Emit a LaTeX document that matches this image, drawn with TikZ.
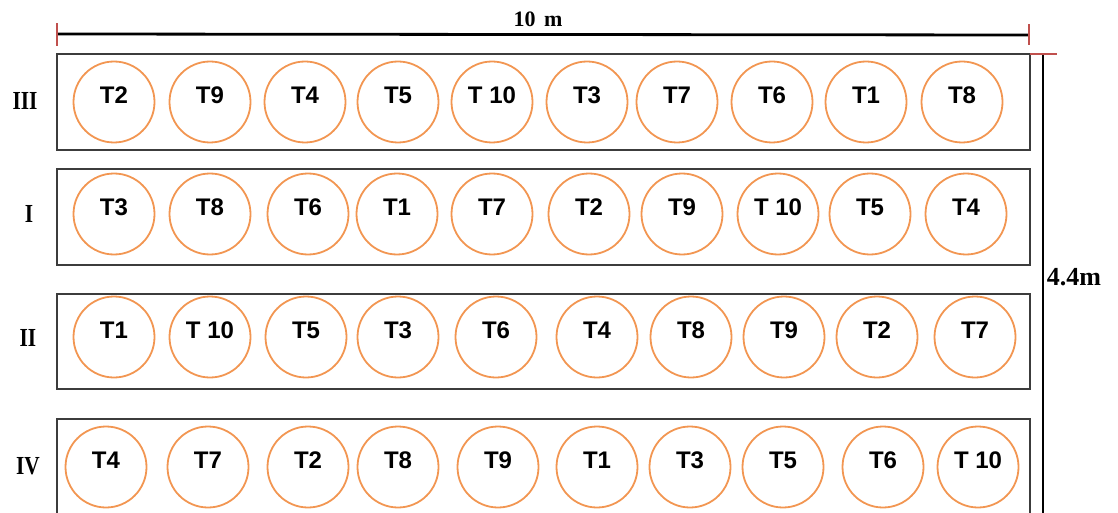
\documentclass[tikz,border=0pt]{standalone}
\usepackage{fontspec}
\setmainfont{Liberation Serif}
\newfontfamily\plotfont{Liberation Sans}
\definecolor{plotorange}{RGB}{242,150,82}
\definecolor{tickred}{RGB}{192,80,77}
\definecolor{boxgray}{RGB}{60,60,60}
\begin{document}
\begin{tikzpicture}[x=1pt,y=-1pt,
  rowbox/.style={draw=boxgray,line width=1.3pt},
  plotc/.style={circle,draw=plotorange,line width=1.8pt,minimum size=81pt,inner sep=0pt},
  tlab/.style={font=\plotfont\bfseries\fontsize{24}{24}\selectfont,inner sep=0pt},
  rlab/.style={font=\bfseries\fontsize{26}{26}\selectfont,inner sep=0pt},
  dimlab/.style={font=\bfseries\fontsize{22}{22}\selectfont,inner sep=0pt},
  dimlabb/.style={font=\bfseries\fontsize{26}{26}\selectfont,inner sep=0pt},
  dimline/.style={line width=2.8pt,black},
  redtick/.style={line width=2pt,tickred}]
\useasboundingbox (0,0) rectangle (1118,513);
% row boxes
\draw[rowbox] (57,54) rectangle (1030,150);
\draw[rowbox] (57,169) rectangle (1030,265);
\draw[rowbox] (57,294) rectangle (1030,389);
\draw[rowbox] (57,419) rectangle (1030,520);
% row labels
\node[rlab] (rIII) at (25,101) {\scalebox{0.82}[1]{III}};
\node[rlab] (rI) at (29,214) {\scalebox{0.82}[1]{I}};
\node[rlab] (rII) at (28,338) {\scalebox{0.82}[1]{II}};
\node[rlab] (rIV) at (28,466) {\scalebox{0.82}[1]{IV}};
% plots
\foreach \x/\t [count=\i] in {114/T2,210/T9,305/T4,398/T5,492/T 10,587/T3,677/T7,772/T6,866/T1,962/T8}{
  \node[plotc] (a\i) at (\x,102) {};
  \node[tlab] (ta\i) at ([yshift=7pt]a\i.center) {\t};
}
\foreach \x/\t [count=\i] in {114/T3,210/T8,308/T6,397/T1,492/T7,589/T2,682/T9,778/T 10,870/T5,966/T4}{
  \node[plotc] (b\i) at (\x,214) {};
  \node[tlab] (tb\i) at ([yshift=7pt]b\i.center) {\t};
}
\foreach \x/\t [count=\i] in {114/T1,210/T 10,306/T5,398/T3,496/T6,597/T4,691/T8,784/T9,877/T2,975/T7}{
  \node[plotc] (c\i) at (\x,337) {};
  \node[tlab] (tc\i) at ([yshift=7pt]c\i.center) {\t};
}
\foreach \x/\t [count=\i] in {106/T4,208/T7,308/T2,398/T8,498/T9,597/T1,690/T3,783/T5,883/T6,978/T 10}{
  \node[plotc] (d\i) at (\x,467) {};
  \node[tlab] (td\i) at ([yshift=7pt]d\i.center) {\t};
}
% dimension lines
\coordinate (hl) at (57,34);
\coordinate (hr) at (1029,35);
\draw[dimline] (hl) -- (hr);
\draw[redtick] ([yshift=-12pt]hl) -- ([yshift=11pt]hl);
\draw[redtick] ([yshift=-10pt]hr) -- ([yshift=11pt]hr);
\node[dimlab] (hlab) at (538,19) {10\hspace{3pt} m};
\coordinate (vt) at (1043,54);
\coordinate (vb) at (1043,513);
\draw[dimline] (vt) -- (vb);
\draw[redtick] ([xshift=-13pt]vt) -- ([xshift=14pt]vt);
\node[dimlab,font=\bfseries\fontsize{26}{26}\selectfont] (vlab) at (1074,277) {4.4m};
\end{tikzpicture}
\end{document}
